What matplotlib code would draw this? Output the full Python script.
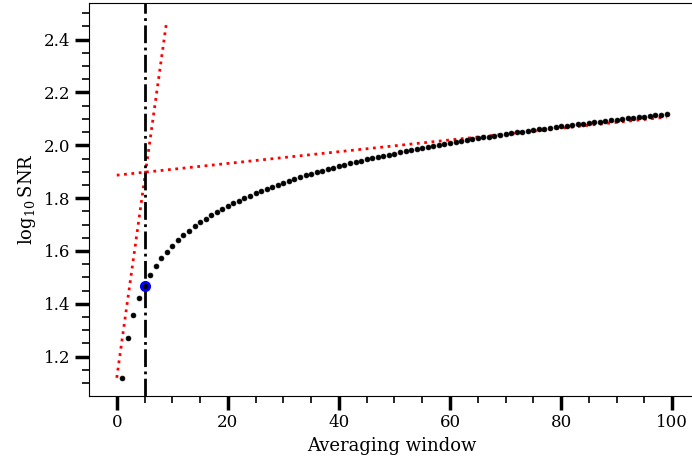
import matplotlib
matplotlib.use("Agg")
import matplotlib.pyplot as plt
from matplotlib.ticker import MultipleLocator

# janela de media (1..99) e log10 do SNR
janela = list(range(1, 100))
log_snr = [
    1.120, 1.271, 1.359, 1.421, 1.469, 1.509, 1.543, 1.572, 1.597, 1.620,
    1.641, 1.660, 1.677, 1.693, 1.708, 1.722, 1.735, 1.748, 1.759, 1.771,
    1.781, 1.791, 1.801, 1.810, 1.819, 1.827, 1.836, 1.844, 1.851, 1.859,
    1.866, 1.873, 1.879, 1.886, 1.892, 1.898, 1.904, 1.910, 1.916, 1.921,
    1.926, 1.932, 1.937, 1.942, 1.947, 1.951, 1.956, 1.961, 1.965, 1.969,
    1.974, 1.978, 1.982, 1.986, 1.990, 1.994, 1.998, 2.002, 2.005, 2.009,
    2.013, 2.016, 2.020, 2.023, 2.026, 2.030, 2.033, 2.036, 2.039, 2.043,
    2.046, 2.049, 2.052, 2.055, 2.058, 2.060, 2.063, 2.066, 2.069, 2.072,
    2.074, 2.077, 2.080, 2.082, 2.085, 2.087, 2.090, 2.092, 2.095, 2.097,
    2.100, 2.102, 2.104, 2.107, 2.109, 2.111, 2.113, 2.116, 2.118,
]

# retas de ajuste (inicio e fim)
reta_inicio_x = [0, 9]
reta_inicio_y = [1.120, 2.472]
reta_fim_x = [0, 99]
reta_fim_y = [1.887, 2.107]

janela_otima = 5
snr_otimo = 1.469


def main():
    plt.rcParams['font.family'] = 'DejaVu Serif'
    plt.rcParams['mathtext.fontset'] = 'dejavuserif'

    fig = plt.figure(figsize=(6.92, 4.66), dpi=100)
    ax = fig.add_axes([0.129, 0.151, 0.874, 0.843])

    ax.plot(reta_inicio_x, reta_inicio_y, ':', color='red', lw=2)
    ax.plot(reta_fim_x, reta_fim_y, ':', color='red', lw=2)
    ax.axvline(janela_otima, color='black', ls='-.', lw=2)
    ax.plot([janela_otima], [snr_otimo], 'o', color='blue', ms=7, mew=1, zorder=3)
    ax.plot(janela, log_snr, 'o', color='black', ms=3.5, mew=0.5, zorder=4)

    ax.xaxis.set_major_locator(MultipleLocator(20))
    ax.xaxis.set_minor_locator(MultipleLocator(5))
    ax.yaxis.set_major_locator(MultipleLocator(0.2))
    ax.yaxis.set_minor_locator(MultipleLocator(0.05))
    ax.tick_params(which='major', length=10, width=2.5, labelsize=12)
    ax.tick_params(which='minor', length=5, width=1.2)

    ax.set_xlabel('Averaging window', fontsize=13)
    ax.set_ylabel(r'$\log_{10}$SNR', fontsize=13)

    fig.savefig('out.png', dpi=100)


main()
